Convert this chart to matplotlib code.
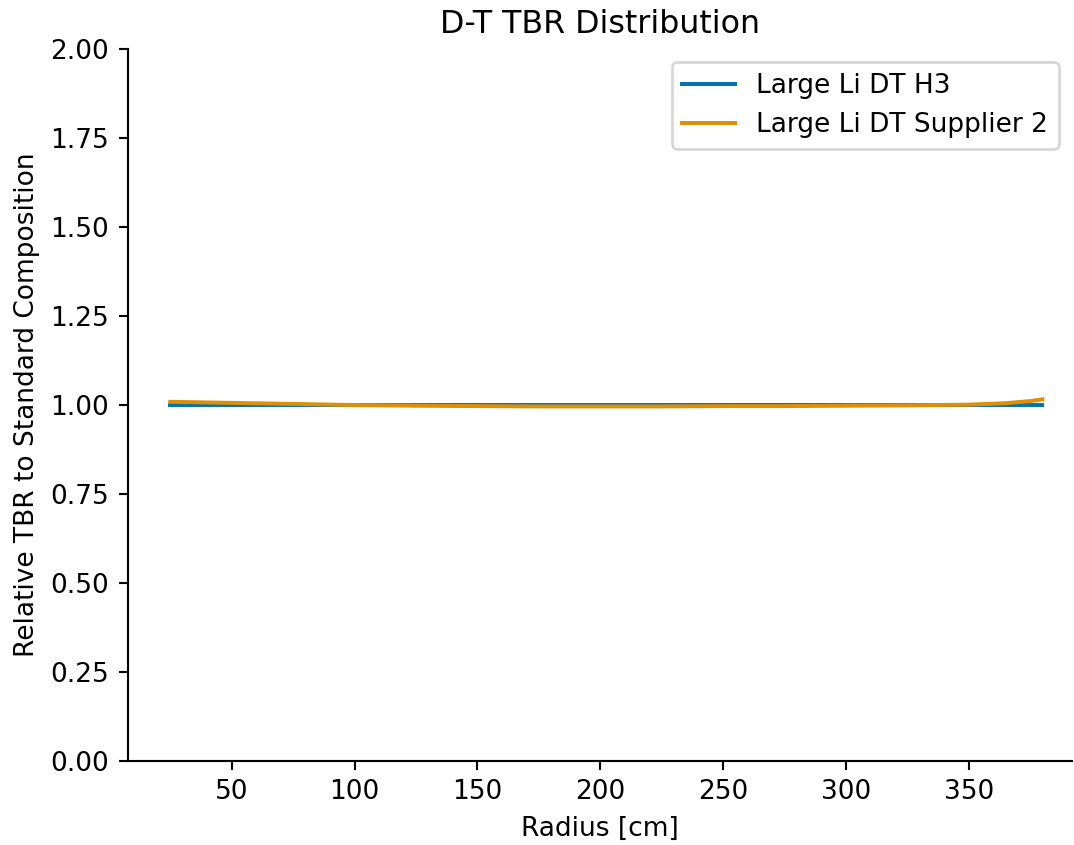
import matplotlib
matplotlib.use("Agg")
import matplotlib.pyplot as plt

radius = [25, 50, 75, 100, 125, 150, 175, 200, 225, 250, 275, 300, 325, 350, 365, 375, 380]
h3 = [1.0] * len(radius)
supplier2 = [1.009, 1.006, 1.003, 1.000, 0.998, 0.997, 0.996, 0.996, 0.996, 0.997, 0.997, 0.998, 0.999, 1.001, 1.005, 1.011, 1.016]

blue = "#0173b2"
orange = "#de8f05"

fig = plt.figure(figsize=(1074 / 190, 845 / 190), dpi=190)
ax = fig.add_axes([0.119, 0.0994, 0.879, 0.8426])

ax.plot(radius, h3, color=blue, linewidth=1.5, label="Large Li DT H3")
ax.plot(radius, supplier2, color=orange, linewidth=1.5, label="Large Li DT Supplier 2")

ax.set_xlim(7.7, 392)
ax.set_ylim(0, 2)
ax.set_xticks([50, 100, 150, 200, 250, 300, 350])
ax.set_yticks([0, 0.25, 0.5, 0.75, 1.0, 1.25, 1.5, 1.75, 2.0])
ax.set_yticklabels(["0.00", "0.25", "0.50", "0.75", "1.00", "1.25", "1.50", "1.75", "2.00"])

ax.spines["top"].set_visible(False)
ax.spines["right"].set_visible(False)

ax.set_xlabel("Radius [cm]")
ax.set_ylabel("Relative TBR to Standard Composition")
ax.set_title("D-T TBR Distribution")
ax.legend(loc="upper right")

fig.savefig("out.png", dpi=190)
